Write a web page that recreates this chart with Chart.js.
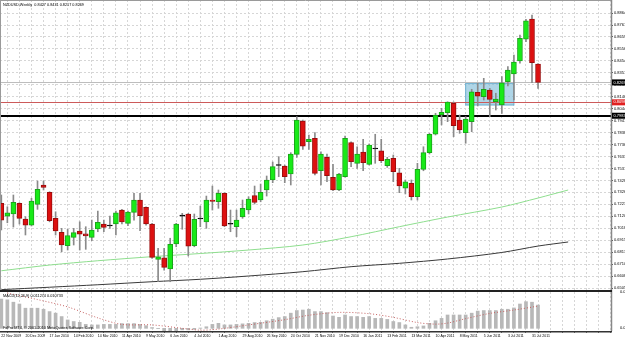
<!DOCTYPE html>
<html>
<head>
<meta charset="utf-8">
<script src="https://cdn.jsdelivr.net/npm/chart.js@4.4.0/dist/chart.umd.min.js"></script>
<style>
  html, body { margin: 0; padding: 0; background: #fff; }
  #wrap { position: relative; width: 625px; height: 342px; overflow: hidden; background: #fff; }
  #main { position: absolute; left: 0; top: 0; }
  #macd { position: absolute; left: 0; top: 290px; }
</style>
</head>
<body>
<div id="wrap">
  <canvas id="main" width="625" height="292"></canvas>
  <canvas id="macd" width="625" height="52"></canvas>
</div>
<script>
// NZDUSD weekly, one entry per week starting 22 Nov 2009
const symbol = 'NZDUSD,Weekly';
const dateLabels = ['22 Nov 2009', '20 Dec 2009', '17 Jan 2010', '14 Feb 2010', '14 Mar 2010', '11 Apr 2010',
  '9 May 2010', '6 Jun 2010', '4 Jul 2010', '1 Aug 2010', '29 Aug 2010', '26 Sep 2010', '24 Oct 2010',
  '21 Nov 2010', '19 Dec 2010', '16 Jan 2011', '13 Feb 2011', '13 Mar 2011', '10 Apr 2011', '8 May 2011',
  '5 Jun 2011', '3 Jul 2011', '31 Jul 2011'];

const opens = [
  .7232, .7122, .7140, .7232, .7097, .7045, .7223, .7389, .7326, .7103,
  .6983, .6868, .6940, .6994, .6969, .6940, .7011, .7054, .7037, .7054,
  .7174, .7060, .7154, .7260, .7197, .7054, .6751, .6765, .6668, .6883,
  .7122, .7140, .6868, .7097, .7073, .7260, .7245, .7318, .7052, .7031,
  .7116, .7174, .7297, .7260, .7346, .7432, .7556, .7552, .7483, .7652,
  .7938, .7760, .7789, .7511, .7626, .7455, .7346, .7460, .7752, .7575,
  .7672, .7566, .7698, .7683, .7554, .7618, .7494, .7361, .7403, .7288,
  .7523, .7666, .7824, .7989, .8009, .8090, .7946, .7838, .7932, .8184,
  .8146, .8204, .8103, .8075, .8275, .8341, .8453, .8641, .8813, .8427];
const highs = [
  .7303, .7202, .7303, .7237, .7117, .7275, .7423, .7423, .7331, .7159,
  .7017, .7009, .7017, .7073, .7031, .7088, .7165, .7088, .7122, .7165,
  .7180, .7165, .7318, .7318, .7202, .7060, .6846, .6846, .6932, .7060,
  .7146, .7146, .7140, .7208, .7294, .7380, .7346, .7323, .7174, .7174,
  .7260, .7288, .7380, .7397, .7466, .7586, .7632, .7560, .7666, .7975,
  .7946, .7818, .7838, .7674, .7655, .7566, .7489, .7809, .7760, .7717,
  .7781, .7741, .7824, .7781, .7626, .7646, .7532, .7432, .7432, .7575,
  .7717, .7832, .8004, .8047, .8103, .8101, .7989, .7975, .8210, .8261,
  .8304, .8218, .8176, .8318, .8404, .8504, .8676, .8810, .8847, .8431];
const lows = [
  .7003, .7065, .7028, .7054, .6960, .7037, .7180, .7346, .7073, .6960,
  .6816, .6831, .6874, .6831, .6837, .6911, .6988, .6988, .7017, .6960,
  .7054, .7039, .7088, .6997, .7045, .6760, .6559, .6659, .6559, .6859,
  .7009, .6780, .6859, .7031, .7017, .7174, .7189, .7031, .6988, .6945,
  .7103, .7140, .7226, .7245, .7294, .7409, .7460, .7409, .7389, .7626,
  .7695, .7695, .7475, .7389, .7417, .7340, .7340, .7455, .7546, .7532,
  .7511, .7560, .7575, .7580, .7540, .7417, .7323, .7312, .7260, .7260,
  .7511, .7655, .7818, .7904, .7932, .7803, .7832, .7747, .7846, .8067,
  .8118, .7975, .8032, .8004, .8238, .8118, .8433, .8618, .8266, .8217];
const closes = [
  .7088, .7151, .7240, .7103, .7045, .7251, .7352, .7369, .7082, .6994,
  .6874, .6954, .6980, .6966, .6952, .7003, .7068, .7025, .7037, .7151,
  .7073, .7157, .7260, .7125, .7054, .6768, .6773, .6682, .6880, .7054,
  .7122, .6865, .7094, .7097, .7260, .7249, .7318, .7037, .7052, .7088,
  .7189, .7269, .7240, .7326, .7432, .7546, .7556, .7460, .7655, .7946,
  .7723, .7781, .7489, .7655, .7469, .7346, .7483, .7789, .7589, .7655,
  .7580, .7732, .7698, .7597, .7609, .7503, .7380, .7417, .7288, .7523,
  .7666, .7824, .7989, .8012, .8101, .7897, .7861, .7955, .8189, .8152,
  .8210, .8124, .8127, .8266, .8375, .8444, .8647, .8798, .8438, .8269];

// moving averages (shifted forward), read at a few bars
const maFastBars = [0, 8, 16, 25, 33, 41, 50, 58, 66, 74, 83, 89, 94];
const maFastVals = [.6653, .6702, .6739, .6774, .6801, .6831, .6874, .6945, .7031, .7114, .7200, .7277, .7346];
const maSlowBars = [0, 16, 25, 33, 41, 50, 58, 66, 74, 83, 89, 94];
const maSlowVals = [.6491, .6533, .6559, .6580, .6608, .6645, .6688, .6717, .6754, .6810, .6865, .6900];

// MACD(12,26,9)
const macdHist = [
  .0112, .0109, .0100, .0093, .0077, .0077, .0077, .0073, .0064, .0058,
  .0045, .0032, .0026, .0023, .0015, .0013, .0013, .0015, .0015, .0015,
  .0018, .0018, .0018, .0015, .0010, .0003, -.0001, -.0013, -.0017, -.0013,
  -.0006, -.0006, -.0004, .0001, .0006, .0015, .0019, .0013, .0013, .0015,
  .0017, .0019, .0022, .0023, .0029, .0035, .0041, .0045, .0058, .0068,
  .0070, .0073, .0064, .0064, .0060, .0047, .0042, .0051, .0045, .0045,
  .0042, .0045, .0038, .0038, .0034, .0026, .0022, .0013, .0004, .0006,
  .0009, .0019, .0029, .0038, .0051, .0051, .0051, .0051, .0058, .0066,
  .0068, .0068, .0068, .0073, .0073, .0078, .0093, .0102, .0100, .0089];
const signalBars = [1, 6, 11, 16, 20, 25, 30, 33, 36, 41, 47, 51, 56, 61, 65, 69, 72, 74, 77, 81, 85, 89];
const signalVals = [.0135, .0110, .0082, .0040, .0015, .0013, .0000, -.0007, -.0003, .0013, .0033, .0050,
  .0061, .0056, .0042, .0022, .0016, .0020, .0037, .0057, .0070, .0085];
const macdTitle = 'MACD(12,26,9) 0.011274 0.010733';
const macdTicks = [0.0138, 0];

// price axis
const priceTicks = [0.8864, 0.8761, 0.8659, 0.8556, 0.8454, 0.8351, 0.8249, 0.8146, 0.8044, 0.7941,
  0.7838, 0.7736, 0.7633, 0.7531, 0.7428, 0.7326, 0.7223, 0.7120, 0.7018, 0.6915, 0.6813, 0.6710,
  0.6608, 0.6505];
const priceMin = 0.6488, priceMax = 0.8976;
const macdMin = -0.00103, macdMax = 0.0139;
const barMin = -0.22, barMax = 101.1;

// drawn objects
const redLevel = 0.8098;
const blackLevel = 0.7983;
const zoneBars = [77, 85];
const zonePrices = [0.8075, 0.8261];

const gridColor = '#d6d6d6';
const fontFam = '"Liberation Sans", Arial, sans-serif';
const idx = opens.map((_, i) => i);
const gridBars = [];
for (let b = 0; b <= 100; b += 2) gridBars.push(b);

const bodyFill = i => closes[i] > opens[i] ? '#18ea18' : closes[i] < opens[i] ? '#dd1010' : '#000';
const bodyEdge = i => closes[i] > opens[i] ? '#1aa51a' : closes[i] < opens[i] ? '#9a0c0c' : '#000';

const hline = (ctx, a, py, color, w) => {
  ctx.strokeStyle = color;
  ctx.lineWidth = w;
  ctx.beginPath();
  ctx.moveTo(a.left, py);
  ctx.lineTo(a.right, py);
  ctx.stroke();
};

const axisBox = (ctx, py, value, bg) => {
  ctx.fillStyle = bg;
  ctx.fillRect(612, py - 3, 13, 6);
  ctx.fillStyle = '#fff';
  ctx.font = '4px ' + fontFam;
  ctx.textBaseline = 'middle';
  ctx.textAlign = 'left';
  ctx.fillText(value.toFixed(4), 613.5, py);
};

const mainDecor = {
  id: 'mainDecor',
  beforeDatasetsDraw(chart) {
    const {ctx, chartArea: a, scales: {x, y}} = chart;
    ctx.save();
    const x1 = x.getPixelForValue(zoneBars[0]), x2 = x.getPixelForValue(zoneBars[1]);
    const y1 = y.getPixelForValue(zonePrices[1]), y2 = y.getPixelForValue(zonePrices[0]);
    ctx.fillStyle = 'rgba(120, 185, 215, 0.6)';
    ctx.fillRect(x1, y1, x2 - x1, y2 - y1);
    ctx.strokeStyle = '#6aaed0';
    ctx.lineWidth = 1;
    ctx.strokeRect(x1, y1, x2 - x1, y2 - y1);
    hline(ctx, a, Math.round(y.getPixelForValue(closes[closes.length - 1])) + 0.5, '#bdbdbd', 1);
    hline(ctx, a, Math.round(y.getPixelForValue(redLevel)) + 0.5, '#cc5a5a', 1);
    hline(ctx, a, Math.round(y.getPixelForValue(blackLevel)), '#000', 2);
    ctx.restore();
  },
  afterDraw(chart) {
    const {ctx, chartArea: a, scales: {y}} = chart;
    ctx.save();
    ctx.strokeStyle = '#9a9a9a';
    ctx.lineWidth = 1;
    ctx.beginPath();
    ctx.moveTo(0, 0.5); ctx.lineTo(a.right, 0.5);
    ctx.moveTo(0.5, 0); ctx.lineTo(0.5, a.bottom);
    ctx.stroke();
    ctx.strokeStyle = '#888';
    ctx.lineWidth = 1.5;
    ctx.beginPath();
    ctx.moveTo(a.right + 0.5, 0); ctx.lineTo(a.right + 0.5, 292);
    ctx.stroke();
    ctx.fillStyle = '#222';
    ctx.fillRect(0, 290, a.right + 1, 2);
    const last = closes.length - 1;
    axisBox(ctx, y.getPixelForValue(closes[last]), closes[last], '#000');
    axisBox(ctx, y.getPixelForValue(redLevel), redLevel, '#e02020');
    axisBox(ctx, y.getPixelForValue(blackLevel), blackLevel, '#000');
    ctx.fillStyle = '#000';
    ctx.font = '3.8px ' + fontFam;
    ctx.textBaseline = 'top';
    ctx.textAlign = 'left';
    ctx.fillText(symbol + '  ' + [opens[last], highs[last], lows[last], closes[last]].map(v => v.toFixed(4)).join(' '), 3, 3);
    ctx.restore();
  }
};

new Chart(document.getElementById('main'), {
  type: 'bar',
  data: {
    datasets: [
      {
        label: 'body',
        data: idx.map(i => ({x: i, y: [opens[i], closes[i]]})),
        backgroundColor: idx.map(bodyFill),
        borderColor: idx.map(bodyEdge),
        borderWidth: 1,
        borderSkipped: false,
        barThickness: 5,
        minBarLength: 1,
        grouped: false,
        order: 0
      },
      {
        label: 'wick',
        data: idx.map(i => ({x: i, y: [lows[i], highs[i]]})),
        backgroundColor: '#8a8a8a',
        barThickness: 1,
        grouped: false,
        order: 1
      },
      {
        type: 'line',
        label: 'ma fast',
        data: maFastBars.map((b, k) => ({x: b, y: maFastVals[k]})),
        borderColor: '#8ede8e',
        borderWidth: 1,
        pointRadius: 0,
        tension: 0.3,
        order: 2
      },
      {
        type: 'line',
        label: 'ma slow',
        data: maSlowBars.map((b, k) => ({x: b, y: maSlowVals[k]})),
        borderColor: '#3a3a3a',
        borderWidth: 1,
        pointRadius: 0,
        tension: 0.3,
        order: 3
      }
    ]
  },
  options: {
    responsive: false,
    animation: false,
    devicePixelRatio: 1,
    layout: {padding: 0},
    plugins: {legend: {display: false}, tooltip: {enabled: false}},
    scales: {
      x: {
        type: 'linear',
        min: barMin,
        max: barMax,
        offset: false,
        afterBuildTicks: s => { s.ticks = gridBars.map(v => ({value: v})); },
        afterFit: s => { s.height = 2; s.paddingLeft = 0; s.paddingRight = 0; },
        ticks: {display: false},
        grid: {color: gridColor, drawTicks: false},
        border: {display: false, dash: [2, 2]}
      },
      y: {
        position: 'right',
        min: priceMin,
        max: priceMax,
        afterBuildTicks: s => { s.ticks = priceTicks.map(v => ({value: v})); },
        afterFit: s => { s.width = 14; s.paddingTop = 0; s.paddingBottom = 0; },
        ticks: {
          color: '#000',
          padding: 1,
          font: {size: 4, family: fontFam},
          callback: v => v.toFixed(4)
        },
        grid: {color: gridColor, tickLength: 2, tickColor: '#555'},
        border: {display: false, dash: [2, 2]}
      }
    }
  },
  plugins: [mainDecor]
});

const macdDecor = {
  id: 'macdDecor',
  afterDraw(chart) {
    const {ctx, chartArea: a} = chart;
    ctx.save();
    ctx.strokeStyle = '#888';
    ctx.lineWidth = 1.5;
    ctx.beginPath();
    ctx.moveTo(a.right + 0.5, 2); ctx.lineTo(a.right + 0.5, a.bottom);
    ctx.stroke();
    ctx.fillStyle = '#333';
    ctx.fillRect(0, a.bottom, a.right + 1, 1.5);
    ctx.fillStyle = '#000';
    ctx.font = '3.8px ' + fontFam;
    ctx.textAlign = 'left';
    ctx.textBaseline = 'top';
    ctx.fillText(macdTitle, 3, a.top + 2);
    ctx.textBaseline = 'bottom';
    ctx.fillText('FxPro MT4, \u00a9 2001-2010 MetaQuotes Software Corp.', 3, a.bottom - 1);
    ctx.restore();
  }
};

new Chart(document.getElementById('macd'), {
  type: 'bar',
  data: {
    datasets: [
      {
        type: 'line',
        label: 'signal',
        data: signalBars.map((b, k) => ({x: b, y: signalVals[k]})),
        borderColor: '#c46060',
        borderWidth: 1,
        borderDash: [1, 2],
        pointRadius: 0,
        tension: 0.3,
        order: 0
      },
      {
        label: 'macd',
        data: idx.map(i => ({x: i, y: macdHist[i]})),
        backgroundColor: '#b8b8b8',
        barThickness: 3,
        grouped: false,
        order: 1
      }
    ]
  },
  options: {
    responsive: false,
    animation: false,
    devicePixelRatio: 1,
    layout: {padding: {top: 2}},
    plugins: {legend: {display: false}, tooltip: {enabled: false}},
    scales: {
      x: {
        type: 'linear',
        min: barMin,
        max: barMax,
        offset: false,
        afterBuildTicks: s => { s.ticks = gridBars.map(v => ({value: v})); },
        afterFit: s => { s.height = 11; s.paddingLeft = 0; s.paddingRight = 0; },
        ticks: {
          autoSkip: false,
          maxRotation: 0,
          align: 'start',
          color: '#000',
          padding: 1,
          font: {size: 3.5, family: fontFam},
          callback: v => (v % 4 === 0 && dateLabels[v / 4]) ? dateLabels[v / 4] : ''
        },
        grid: {color: gridColor, tickLength: 2, tickColor: '#777'},
        border: {display: false, dash: [2, 2]}
      },
      y: {
        position: 'right',
        min: macdMin,
        max: macdMax,
        afterBuildTicks: s => { s.ticks = macdTicks.map(v => ({value: v})); },
        afterFit: s => { s.width = 14; s.paddingTop = 0; s.paddingBottom = 0; },
        ticks: {
          color: '#000',
          padding: 1,
          font: {size: 4, family: fontFam},
          callback: v => v === 0 ? '0.00' : v.toFixed(5)
        },
        grid: {display: false},
        border: {display: false}
      }
    }
  },
  plugins: [macdDecor]
});
</script>
</body>
</html>
